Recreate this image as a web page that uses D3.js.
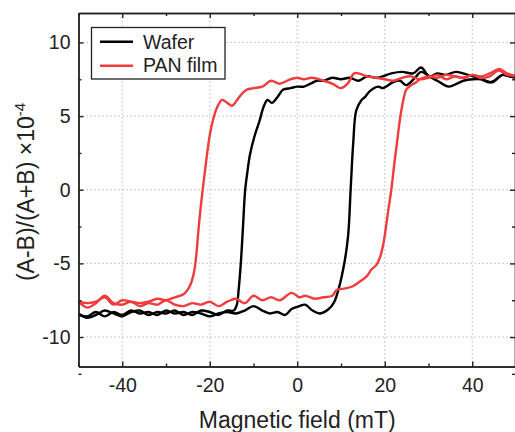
<!DOCTYPE html>
<html>
<head>
<meta charset="utf-8">
<script src="https://cdn.jsdelivr.net/npm/d3@7"></script>
<style>
  body { margin: 0; background: #fff; }
  svg text { font-family: "Liberation Sans", Arial, sans-serif; fill: #222; }
</style>
</head>
<body>
<div id="chart"></div>
<script>
// hysteresis loops, field in mT, signal in units of 1e-4
var waferAsc = [[-50,-8.4],[-48,-8.7],[-46,-8.5],[-44,-8.2],[-42,-8.4],[-40,-8.6],[-38,-8.3],[-36,-8.2],[-34,-8.5],
  [-32,-8.3],[-30,-8.4],[-28,-8.2],[-26,-8.5],[-24,-8.3],[-22,-8.4],[-20,-8.6],[-18,-8.4],[-16,-8.3],[-14,-8.4],
  [-12,-8.2],[-10,-7.9],[-8,-8.2],[-6.2,-8.4],[-4.5,-8.3],[-2.8,-8.5],[-1.3,-8.1],[0.5,-7.9],[1.8,-7.8],[3.5,-8.2],
  [5.2,-8.4],[7.2,-8.1],[8.3,-7.7],[9,-7.2],[10.5,-5.4],[11.6,-3.2],[12.2,0],[12.8,3.2],[13.5,5.4],[14.7,6.1],
  [15.5,6.3],[16.6,6.7],[18.5,7.0],[19.6,6.9],[21.9,7.3],[23.5,7.4],[24.9,7.1],[27.2,7.7],[28.3,8.0],[30.2,7.7],
  [32,7.4],[34.6,7.0],[36.5,7.2],[38,7.4],[40.1,7.5],[42,7.5],[43.9,7.3],[45,7.4],[46.9,7.8],[48.5,7.7],[50,7.6]];

var waferDesc = [[50,7.6],[48.5,7.7],[46.9,7.8],[44.6,7.3],[43,7.4],[41.6,7.6],[39,7.8],[36.3,8.0],[34,7.8],
  [32,7.9],[30.2,7.7],[28.3,8.3],[26.5,7.9],[24,8.0],[21.5,7.9],[19.5,7.7],[18,7.6],[16,7.7],[14,7.4],[12,7.6],
  [10,7.5],[8,7.6],[6,7.4],[4.5,7.4],[3,7.2],[1.5,7.0],[0,7.0],[-1.5,6.9],[-3.2,6.8],[-4.5,6.3],[-5.8,5.9],
  [-6.8,6.1],[-7.6,5.7],[-8.7,4.6],[-9.8,3.6],[-10.8,2.4],[-11.4,1.2],[-11.9,0],[-12.4,-2.5],[-12.9,-5],
  [-13.4,-6.8],[-13.8,-7.8],[-14.5,-8.2],[-16,-8.2],[-18,-8.5],[-20,-8.3],[-22,-8.2],[-24,-8.5],[-26,-8.3],
  [-28,-8.4],[-30,-8.2],[-32,-8.5],[-34,-8.3],[-36,-8.4],[-38,-8.2],[-40,-8.5],[-42,-8.3],[-44,-8.6],[-46,-8.3],
  [-48,-8.6],[-50,-8.5]];

var panAsc = [[-50,-7.6],[-48,-8.0],[-46,-7.7],[-44,-7.2],[-42,-7.7],[-40,-7.8],[-38,-7.6],[-36,-7.9],[-34,-7.7],
  [-32,-7.8],[-30,-7.5],[-28,-7.8],[-26,-7.9],[-24,-7.7],[-22,-7.8],[-20,-7.6],[-18,-7.9],[-16,-7.6],[-14,-7.4],
  [-12,-7.7],[-10,-7.2],[-8,-7.5],[-6,-7.3],[-4,-7.5],[-1.3,-7.0],[0.5,-7.3],[1.8,-7.2],[4,-7.4],[6,-7.3],
  [8,-7.2],[9,-6.8],[11,-6.7],[12.7,-6.55],[14,-6.3],[15.8,-5.9],[17,-5.4],[18.1,-5.1],[19,-4.5],[19.6,-3.8],
  [20.2,-2.7],[20.7,-1.6],[21.5,0],[22.2,1.8],[22.8,3.2],[23.3,4.4],[23.8,5.4],[24.4,6.3],[24.9,6.8],[26,7.1],
  [27.2,7.3],[28,7.5],[30,7.7],[32,7.6],[34,7.8],[36,7.7],[38,7.6],[40,7.8],[42,7.7],[44,7.9],[46.2,8.2],
  [48,7.9],[50,7.7]];

var panDesc = [[50,7.7],[48,7.8],[46,8.1],[44,7.7],[42,7.6],[40,7.8],[38,7.6],[36,7.7],[34,7.5],[32,7.8],
  [30,7.6],[28,7.5],[26,7.7],[24,7.6],[22,7.4],[20,7.5],[18,7.6],[16,7.7],[14,7.9],[13,7.9],[11.5,7.2],[10,6.9],
  [8,7.2],[6,7.4],[3.3,7.6],[1.5,7.5],[0,7.6],[-2,7.45],[-4,7.2],[-6,7.4],[-8,7.0],[-10,6.9],[-11.5,6.8],
  [-12.4,6.6],[-13.5,6.2],[-14.9,5.7],[-16,5.9],[-17.2,6.1],[-18.3,5.6],[-19.2,4.8],[-20,3.7],[-21,1.5],
  [-22,-1],[-22.6,-2.8],[-23.1,-4.5],[-23.6,-5.6],[-24.5,-6.5],[-26,-7.1],[-28,-7.3],[-30,-7.5],[-32,-7.4],
  [-34,-7.6],[-36,-7.7],[-38,-7.6],[-40,-7.5],[-42,-7.8],[-44,-7.3],[-46,-7.6],[-48,-7.7],[-50,-7.6]];

var xTicks = [-40, -20, 0, 20, 40],
    xMinor = [-50, -30, -10, 10, 30, 50],
    yTicks = [-10, -5, 0, 5, 10],
    yMinor = [-12.5, -7.5, -2.5, 2.5, 7.5];

var series = [
  {name: "Wafer", color: "#000000", branches: [waferAsc, waferDesc]},
  {name: "PAN film", color: "#f03c3c", branches: [panAsc, panDesc]}
];

var width = 515, height = 432;
var margin = {top: 13, right: -1, bottom: 65.5, left: 78.5};

var svg = d3.select("#chart").append("svg")
    .attr("width", width)
    .attr("height", height);

var x = d3.scaleLinear().domain([-50, 50]).range([margin.left, width - margin.right]);
var y = d3.scaleLinear().domain([-12, 12]).range([height - margin.bottom, margin.top]);

var x0 = x.range()[0], x1 = x.range()[1], y0 = y.range()[0], y1 = y.range()[1];

// plain hyphen for negatives, like the original
var fmt = function(d) { return String(d); };

// dotted grid
var grid = svg.append("g").attr("stroke", "#bdbdbd").attr("stroke-width", 1).attr("stroke-dasharray", "1.5,2.5");
grid.selectAll(".gx").data(xTicks).enter().append("line")
    .attr("x1", function(d) { return x(d); }).attr("x2", function(d) { return x(d); })
    .attr("y1", y1).attr("y2", y0);
grid.selectAll(".gy").data(yTicks).enter().append("line")
    .attr("y1", function(d) { return y(d); }).attr("y2", function(d) { return y(d); })
    .attr("x1", x0).attr("x2", x1);

// loops
var line = d3.line()
    .x(function(d) { return x(d[0]); })
    .y(function(d) { return y(d[1]); })
    .curve(d3.curveCatmullRom);

series.forEach(function(s) {
  s.branches.forEach(function(b) {
    svg.append("path")
      .attr("d", line(b))
      .attr("fill", "none")
      .attr("stroke", s.color)
      .attr("stroke-width", 2.4)
      .attr("stroke-linejoin", "round");
  });
});

// axes, ticks pointing inward
function styleAxis(g) {
  g.selectAll("path, line").attr("stroke", "#222").attr("stroke-width", 1.4);
  g.selectAll("text").style("font-size", "19.5px").attr("fill", "#222");
}

svg.append("g").attr("transform", "translate(0," + y0 + ")")
  .call(d3.axisBottom(x).tickValues(xTicks).tickSize(-5).tickPadding(12).tickSizeOuter(0).tickFormat(fmt))
  .call(styleAxis);
svg.append("g").attr("transform", "translate(0," + y0 + ")")
  .call(d3.axisBottom(x).tickValues(xMinor).tickSize(-3).tickFormat("").tickSizeOuter(0))
  .call(styleAxis);
svg.append("g").attr("transform", "translate(0," + y1 + ")")
  .call(d3.axisTop(x).tickValues(xTicks).tickSize(-5).tickFormat("").tickSizeOuter(0))
  .call(styleAxis);
svg.append("g").attr("transform", "translate(0," + y1 + ")")
  .call(d3.axisTop(x).tickValues(xMinor).tickSize(-3).tickFormat("").tickSizeOuter(0))
  .call(styleAxis);

svg.append("g").attr("transform", "translate(" + x0 + ",0)")
  .call(d3.axisLeft(y).tickValues(yTicks).tickSize(-5).tickPadding(8).tickSizeOuter(0).tickFormat(fmt))
  .call(styleAxis);
svg.append("g").attr("transform", "translate(" + x0 + ",0)")
  .call(d3.axisLeft(y).tickValues(yMinor).tickSize(-3).tickFormat("").tickSizeOuter(0))
  .call(styleAxis);
svg.append("g").attr("transform", "translate(" + (x1 - 1) + ",0)")
  .call(d3.axisRight(y).tickValues(yTicks).tickSize(-5).tickFormat("").tickSizeOuter(0))
  .call(styleAxis);
svg.append("g").attr("transform", "translate(" + (x1 - 1) + ",0)")
  .call(d3.axisRight(y).tickValues(yMinor).tickSize(-3).tickFormat("").tickSizeOuter(0))
  .call(styleAxis);

// axis titles
svg.append("text")
  .attr("x", x(0))
  .attr("y", 428)
  .attr("text-anchor", "middle")
  .style("font-size", "23px")
  .text("Magnetic field (mT)");

var yl = svg.append("text")
  .attr("transform", "translate(34," + 192 + ") rotate(-90)")
  .attr("text-anchor", "middle")
  .style("font-size", "23px");
yl.append("tspan").text("(A-B)/(A+B) \u00d710");
yl.append("tspan").attr("dy", -9).style("font-size", "15px").text("-4");

// legend
var lg = svg.append("g");
lg.append("rect")
  .attr("x", 91.5).attr("y", 27.5).attr("width", 133.5).attr("height", 51.5)
  .attr("fill", "#fff").attr("stroke", "#222").attr("stroke-width", 1.3);

var items = lg.selectAll(".item").data(series).enter().append("g");
items.append("line")
  .attr("x1", 100).attr("x2", 133)
  .attr("y1", function(d, i) { return 41.7 + 24 * i; })
  .attr("y2", function(d, i) { return 41.7 + 24 * i; })
  .attr("stroke", function(d) { return d.color; })
  .attr("stroke-width", 2.4);
items.append("text")
  .attr("x", 143)
  .attr("y", function(d, i) { return 48.5 + 23.5 * i; })
  .style("font-size", "19.5px")
  .text(function(d) { return d.name; });
</script>
</body>
</html>
